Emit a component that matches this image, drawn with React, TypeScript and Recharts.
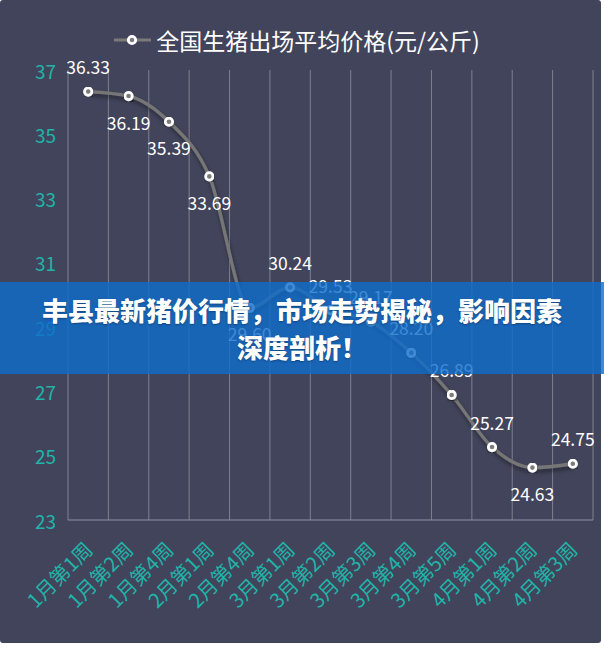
import { LineChart, Line, XAxis, YAxis, CartesianGrid, Legend, LabelList } from 'recharts';

const weeks = ['1月第1周', '1月第2周', '1月第4周', '2月第1周', '2月第4周', '3月第1周', '3月第2周', '3月第3周', '3月第4周', '3月第5周', '4月第1周', '4月第2周', '4月第3周'];
const prices = [36.33, 36.19, 35.39, 33.69, 29.6, 30.24, 29.53, 29.17, 28.2, 26.89, 25.27, 24.63, 24.75];
const yTicks = [23, 25, 27, 29, 31, 33, 35, 37];
const seriesName = '全国生猪出场平均价格(元/公斤)';
const bannerLines = ['丰县最新猪价行情，市场走势揭秘，影响因素', '深度剖析！'];

// labels drawn under the point instead of above
const belowLabels = [1, 2, 3, 4, 11];

const data = weeks.map((week, i) => ({ week, price: prices[i] }));

const TEAL = '#21b3a8';
const FONT = '"Noto Sans CJK SC", "Noto Sans", sans-serif';

const renderLegend = () => (
  <div style={{ height: 45, display: 'flex', justifyContent: 'center', alignItems: 'flex-start', fontFamily: FONT }}>
    <svg width={40} height={30}>
      <line x1={1} y1={15} x2={38} y2={15} stroke="#7a7a7a" strokeWidth={3} />
      <circle cx={19} cy={15} r={3.7} fill="#7a7a7a" stroke="#fff" strokeWidth={2.8} />
    </svg>
    <span style={{ fontSize: 23, lineHeight: '30px', color: '#fff', marginLeft: 3 }}>{seriesName}</span>
  </div>
);

const YTick = ({ y, payload }: any) => (
  <text x={56} y={y} textAnchor="end" dominantBaseline="central" fill={TEAL} fontSize={19} fontFamily={FONT}>
    {payload.value}
  </text>
);

const XTick = ({ x, y, payload }: any) => (
  <text
    transform={`translate(${x},${y + 17}) rotate(-45)`}
    textAnchor="end"
    dominantBaseline="central"
    fill={TEAL}
    fontSize={20}
    fontFamily={FONT}
  >
    {payload.value}
  </text>
);

const PriceLabel = ({ x, y, value, index }: any) => {
  const below = belowLabels.includes(index);
  return (
    <text
      x={x}
      y={below ? y + 26 : y - 25}
      textAnchor="middle"
      dominantBaseline="central"
      fill="#fff"
      fontSize={17.5}
      fontFamily={FONT}
    >
      {Number(value).toFixed(2)}
    </text>
  );
};

export default function App() {
  return (
    <div style={{ position: 'absolute', left: 0, top: 0, width: 604, height: 656, background: '#fff' }}>
      <div style={{ width: 601, height: 643, background: '#42445b', borderRadius: 3 }}>
        <LineChart width={601} height={643} data={data} margin={{ top: 25, right: 8, left: 0, bottom: 8 }}>
          <defs>
            <filter id="lineShadow" x="-10%" y="-10%" width="120%" height="130%">
              <feDropShadow dx="1" dy="3" stdDeviation="2" floodColor="#000" floodOpacity="0.45" />
            </filter>
          </defs>
          <CartesianGrid
            horizontal={false}
            stroke="rgba(255,255,255,0.32)"
            verticalCoordinatesGenerator={({ offset }: any) =>
              Array.from({ length: weeks.length + 1 }, (_, i) => offset.left + (i * offset.width) / weeks.length)
            }
          />
          <XAxis
            dataKey="week"
            type="category"
            scale="band"
            interval={0}
            height={115}
            axisLine={{ stroke: '#8d92a6' }}
            tickLine={false}
            tick={<XTick />}
          />
          <YAxis
            domain={[23, 37]}
            ticks={yTicks}
            width={68}
            axisLine={false}
            tickLine={false}
            tick={<YTick />}
          />
          <Legend verticalAlign="top" content={renderLegend} />
          <Line
            type="monotone"
            dataKey="price"
            name={seriesName}
            stroke="#767676"
            strokeWidth={3.3}
            filter="url(#lineShadow)"
            dot={{ r: 3.7, fill: '#7b7b7b', stroke: '#fff', strokeWidth: 2.8 }}
            activeDot={false}
            isAnimationActive={false}
          >
            <LabelList dataKey="price" content={<PriceLabel />} />
          </Line>
        </LineChart>
      </div>
      <div
        style={{
          position: 'absolute',
          left: 0,
          top: 282,
          width: 604,
          height: 92,
          background: 'rgba(14,109,204,0.8)',
          color: '#fff',
          fontFamily: FONT,
          fontWeight: 900,
          fontSize: 26,
          lineHeight: '37px',
          textAlign: 'center',
          display: 'flex',
          flexDirection: 'column',
          justifyContent: 'center',
          textShadow: '0 1px 2px rgba(0,0,0,0.3)',
        }}
      >
        {bannerLines.map((t) => (
          <div key={t}>{t}</div>
        ))}
      </div>
    </div>
  );
}
